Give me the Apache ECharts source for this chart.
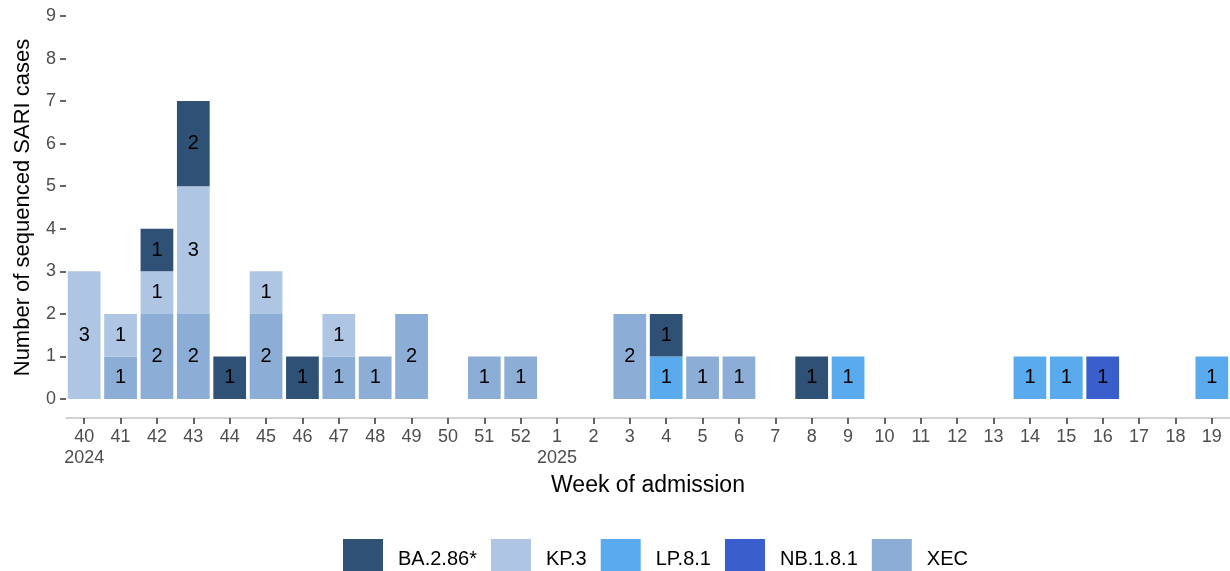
<!DOCTYPE html>
<html>
<head>
<meta charset="utf-8">
<script src="https://cdn.jsdelivr.net/npm/echarts@6/dist/echarts.min.js"></script>
<style>
html,body{margin:0;padding:0;background:#fff;}
#chart{width:1230px;height:571px;}
</style>
</head>
<body>
<div id="chart"></div>
<script>
// Week categories (2024 weeks 40-52, 2025 weeks 1-19)
const weeks = ['40','41','42','43','44','45','46','47','48','49','50','51','52',
  '1','2','3','4','5','6','7','8','9','10','11','12','13','14','15','16','17','18','19'];
const yearLabels = {'40':'2024','1':'2025'};

// Series values per week
const XEC     = [0,1,2,2,0,2,0,1,1,2,0,1,1, 0,0,2,0,1,1,0,0,0,0,0,0,0,0,0,0,0,0,0];
const NB_1_8_1= [0,0,0,0,0,0,0,0,0,0,0,0,0, 0,0,0,0,0,0,0,0,0,0,0,0,0,0,0,1,0,0,0];
const LP_8_1  = [0,0,0,0,0,0,0,0,0,0,0,0,0, 0,0,0,1,0,0,0,0,1,0,0,0,0,1,1,0,0,0,1];
const KP_3    = [3,1,1,3,0,1,0,1,0,0,0,0,0, 0,0,0,0,0,0,0,0,0,0,0,0,0,0,0,0,0,0,0];
const BA_2_86 = [0,0,1,2,1,0,1,0,0,0,0,0,0, 0,0,0,1,0,0,0,1,0,0,0,0,0,0,0,0,0,0,0];

const yTicks = [0,1,2,3,4,5,6,7,8,9];

const FONT = "'Liberation Sans', Arial, sans-serif";
const colors = {
  'BA.2.86*': '#2f5175',
  'KP.3': '#aec5e3',
  'LP.8.1': '#5aabee',
  'NB.1.8.1': '#3a5ecc',
  'XEC': '#8badd6'
};

// stacking order bottom -> top
const stackSeries = [
  ['XEC', XEC],
  ['NB.1.8.1', NB_1_8_1],
  ['LP.8.1', LP_8_1],
  ['KP.3', KP_3],
  ['BA.2.86*', BA_2_86]
];

const chart = echarts.init(document.getElementById('chart'));
chart.setOption({
  animation: false,
  backgroundColor: '#ffffff',
  textStyle: { fontFamily: FONT },
  grid: { left: 66, right: 0, top: 16, bottom: 172, containLabel: false },
  legend: {
    data: ['BA.2.86*','KP.3','LP.8.1','NB.1.8.1','XEC'],
    left: 343,
    top: 539,
    padding: 0,
    orient: 'horizontal',
    icon: 'rect',
    itemWidth: 40,
    itemHeight: 40,
    itemGap: 14,
    textStyle: { fontSize: 20, color: '#000', fontFamily: FONT, padding: [0,0,0,10] }
  },
  xAxis: {
    type: 'category',
    data: weeks,
    offset: 19,
    axisLine: { show: true, onZero: false, lineStyle: { color: '#c4c4c4', width: 1.5 } },
    axisTick: { show: true, alignWithLabel: true, length: 6, lineStyle: { color: '#333', width: 1.5 } },
    axisLabel: {
      interval: 0,
      margin: 9,
      fontSize: 18,
      lineHeight: 21,
      color: '#4d4d4d',
      fontFamily: FONT,
      formatter: v => yearLabels[v] ? v + '\n' + yearLabels[v] : v
    },
    splitLine: { show: false },
    name: 'Week of admission',
    nameLocation: 'middle',
    nameGap: 56,
    nameTextStyle: { fontSize: 23, color: '#000', fontFamily: FONT }
  },
  yAxis: {
    type: 'value',
    min: yTicks[0],
    max: yTicks[yTicks.length - 1],
    interval: 1,
    axisLine: { show: false },
    axisTick: { show: true, length: 6, lineStyle: { color: '#333', width: 1.5 } },
    axisLabel: { margin: 10, fontSize: 18, color: '#4d4d4d', fontFamily: FONT },
    splitLine: { show: false },
    name: 'Number of sequenced SARI cases',
    nameLocation: 'middle',
    nameGap: 32,
    nameTextStyle: { fontSize: 22, color: '#000', fontFamily: FONT }
  },
  series: stackSeries.map(([name, vals]) => ({
    name: name,
    type: 'bar',
    stack: 'total',
    barCategoryGap: '10%',
    data: vals,
    itemStyle: { color: colors[name] },
    label: {
      show: true,
      position: 'inside',
      color: '#000',
      fontSize: 20,
      fontFamily: FONT,
      formatter: p => (p.value > 0 ? String(p.value) : '')
    },
    emphasis: { disabled: true }
  }))
});
</script>
</body>
</html>
